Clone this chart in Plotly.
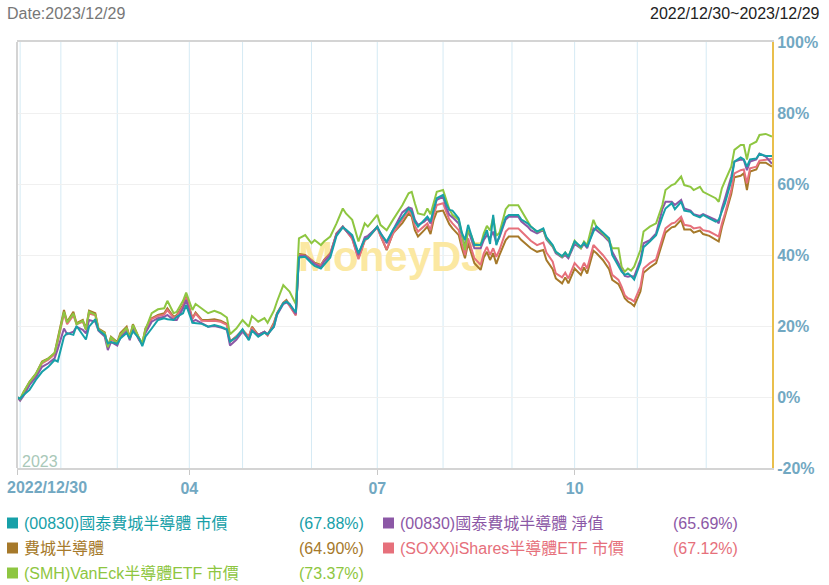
import plotly.graph_objects as go

# ---------------- data (trading-day index, cumulative return %) ----------------
day_idx = [0, 1, 2, 4, 6, 8, 10, 12, 13, 15,
           16, 18, 19, 21, 22, 23, 25, 26, 28, 29,
           30, 32, 33, 35, 36, 37, 39, 40, 41, 43,
           45, 47, 48, 50, 51, 53, 54, 56, 57, 59,
           61, 63, 65, 67, 68, 70, 72, 74, 75, 77,
           79, 80, 82, 83, 85, 86, 87, 89, 90, 92,
           94, 95, 97, 98, 100, 102, 104, 105, 107, 109,
           111, 112, 115, 116, 118, 120, 123, 125, 126, 127,
           128, 130, 131, 132, 133, 134, 136, 137, 138, 139,
           141, 142, 143, 144, 145, 146, 148, 149, 150, 151,
           152, 153, 154, 156, 157, 160, 161, 163, 164, 166,
           168, 169, 171, 172, 174, 175, 176, 178, 180, 181,
           182, 184, 185, 187, 189, 190, 192, 193, 194, 195,
           196, 197, 199, 200, 202, 204, 206, 207, 209, 210,
           212, 213, 215, 216, 218, 219, 221, 223, 224, 225,
           226, 228, 229, 231, 232, 233, 234, 236, 237, 239,
           241]

etf00830_price = [0, -0.5, 0.5, 2.0, 4.8, 7.1, 8.5, 10.4, 10.0, 17.0,
                  18.0, 17.5, 20.0, 17.5, 16.2, 19.8, 21.9, 18.9, 17.5, 15.1,
                  15.5, 15.0, 16.5, 18.0, 16.5, 18.5, 16.5, 14.3, 17.0, 19.3,
                  21.7, 22.2, 21.9, 21.7, 22.6, 23.6, 25.9, 20.9, 20.8, 20.6,
                  19.8, 20.3, 19.8, 19.1, 15.6, 16.8, 19.1, 16.0, 18.7, 17.0,
                  18.1, 17.7, 19.8, 23.4, 26.4, 26.9, 26.2, 23.8, 39.3, 39.5,
                  37.7, 36.9, 36.2, 37.2, 39.3, 45.4, 47.8, 47.2, 45.6, 40.5,
                  44.4, 44.7, 48.0, 46.1, 43.8, 47.0, 50.5, 53.1, 52.2, 49.4,
                  48.0, 49.9, 50.8, 49.4, 53.1, 56.0, 56.9, 54.4, 52.7, 52.5,
                  50.3, 46.3, 44.2, 48.5, 45.6, 42.8, 42.8, 44.7, 47.0, 43.1,
                  51.3, 42.8, 45.6, 50.6, 51.3, 51.3, 50.0, 48.9, 48.0, 46.6,
                  47.5, 45.0, 42.8, 40.9, 39.7, 40.7, 39.5, 43.8, 42.3, 43.5,
                  42.3, 46.6, 48.0, 46.3, 44.7, 40.0, 36.7, 35.3, 34.4, 34.8,
                  34.1, 33.1, 37.8, 42.2, 43.8, 45.6, 50.8, 53.1, 54.6, 52.9,
                  55.0, 52.5, 52.2, 51.3, 50.6, 51.3, 50.3, 49.4, 49.9, 52.2,
                  54.6, 60.9, 66.3, 67.5, 66.9, 64.9, 66.9, 67.2, 68.5, 67.9,
                  67.88]

etf00830_nav = [0, -1.0, 0.2, 3.4, 5.5, 8.5, 9.5, 10.9, 13.5, 19.3,
                17.7, 18.4, 19.8, 18.9, 17.9, 21.7, 21.2, 18.7, 17.0, 13.2,
                15.5, 14.5, 16.8, 18.5, 16.0, 19.5, 16.0, 14.8, 18.0, 21.2,
                22.2, 22.6, 23.1, 21.7, 21.7, 25.0, 27.3, 21.2, 21.7, 20.8,
                19.8, 20.0, 19.6, 18.9, 14.5, 16.1, 18.4, 16.2, 18.7, 17.5,
                18.4, 17.7, 19.8, 23.1, 26.2, 26.6, 26.2, 23.4, 39.7, 39.7,
                38.1, 37.5, 36.5, 38.1, 40.0, 45.9, 48.0, 46.9, 45.2, 40.0,
                45.0, 45.4, 47.8, 46.3, 43.3, 47.0, 52.0, 53.4, 53.1, 49.9,
                48.5, 49.4, 50.3, 48.9, 52.9, 55.5, 56.4, 53.4, 51.3, 50.6,
                48.9, 45.6, 42.3, 47.0, 44.7, 41.9, 41.9, 44.2, 45.6, 44.7,
                46.6, 43.3, 45.0, 50.0, 50.8, 50.8, 49.4, 48.0, 47.0, 46.1,
                47.0, 44.4, 42.3, 40.5, 39.3, 40.0, 39.1, 43.1, 41.9, 43.1,
                41.9, 47.5, 47.0, 45.6, 43.8, 40.9, 37.7, 35.8, 34.1, 33.9,
                34.1, 33.9, 38.6, 43.3, 44.2, 46.1, 52.9, 55.0, 55.0, 54.1,
                55.5, 53.1, 52.5, 51.5, 51.0, 51.5, 50.6, 49.9, 48.9, 53.1,
                56.0, 62.1, 66.3, 66.9, 66.8, 63.9, 66.3, 66.9, 68.6, 67.7,
                65.69]

sox_index = [0, -0.8, 1.2, 4.3, 6.5, 10.0, 10.9, 12.3, 16.5, 24.5,
             21.2, 24.0, 20.8, 21.7, 19.3, 24.3, 23.6, 19.3, 18.2, 14.2,
             17.0, 15.5, 18.0, 19.8, 16.8, 20.5, 16.5, 15.0, 19.3, 22.2,
             23.1, 23.6, 25.0, 22.6, 23.1, 25.9, 28.3, 22.2, 23.8, 21.7,
             21.7, 21.9, 21.5, 20.6, 15.6, 17.0, 18.9, 17.0, 19.8, 17.5,
             18.4, 17.5, 20.9, 23.6, 26.6, 27.3, 25.9, 23.1, 40.3, 40.0,
             38.6, 37.8, 37.2, 38.6, 40.5, 46.1, 48.0, 47.0, 44.7, 39.1,
             44.2, 45.0, 48.0, 45.6, 41.4, 46.1, 49.0, 51.7, 50.8, 47.0,
             45.2, 47.0, 48.0, 45.9, 49.9, 52.2, 52.5, 50.6, 48.7, 47.5,
             45.6, 41.9, 39.1, 43.3, 40.5, 37.7, 35.8, 39.3, 40.9, 38.6,
             40.5, 37.5, 40.0, 44.2, 45.2, 45.2, 44.2, 42.8, 41.9, 40.9,
             41.4, 38.6, 36.0, 33.4, 32.0, 33.7, 32.0, 36.2, 34.4, 36.5,
             34.8, 41.2, 40.5, 38.6, 36.0, 33.0, 31.8, 30.0, 27.8, 26.9,
             26.4, 25.6, 29.7, 35.0, 36.5, 37.7, 43.1, 46.3, 47.8, 48.0,
             49.9, 47.2, 47.2, 46.3, 46.9, 45.9, 45.4, 44.4, 43.8, 47.8,
             50.8, 57.2, 61.9, 62.3, 63.0, 58.3, 63.5, 64.1, 66.0, 66.0,
             64.90]

soxx_price = [0, -0.7, 1.0, 4.0, 6.2, 9.5, 10.5, 12.0, 15.5, 23.5,
              20.5, 23.0, 20.5, 21.2, 19.0, 23.5, 23.0, 19.0, 17.8, 14.0,
              16.5, 15.0, 17.5, 19.3, 16.5, 20.0, 16.2, 15.0, 18.8, 22.0,
              22.8, 23.2, 24.5, 22.3, 22.8, 25.5, 28.0, 22.0, 23.5, 21.5,
              21.4, 21.5, 21.2, 20.3, 15.5, 17.0, 18.7, 17.0, 19.5, 17.2,
              18.2, 17.3, 20.6, 23.5, 26.5, 27.0, 25.6, 23.0, 40.0, 39.8,
              38.5, 37.6, 37.0, 38.4, 40.3, 46.0, 47.8, 47.0, 44.5, 38.8,
              44.0, 44.8, 47.8, 45.4, 41.6, 46.0, 50.0, 52.5, 51.5, 48.2,
              46.6, 48.0, 48.9, 47.0, 51.3, 54.1, 54.6, 52.2, 50.0, 48.9,
              47.0, 43.3, 40.0, 44.7, 41.9, 39.1, 37.2, 40.5, 42.3, 40.0,
              41.9, 39.5, 41.4, 46.6, 47.5, 47.5, 46.6, 44.7, 44.0, 42.8,
              43.5, 40.7, 38.1, 34.8, 33.7, 35.0, 33.4, 37.7, 35.8, 37.8,
              36.2, 42.8, 41.9, 40.0, 37.7, 34.4, 33.0, 31.1, 28.7, 27.8,
              27.5, 26.9, 31.1, 36.2, 37.7, 38.8, 44.7, 47.5, 48.9, 49.1,
              50.8, 48.5, 48.2, 47.5, 47.8, 47.0, 46.6, 45.6, 45.2, 48.9,
              51.7, 58.3, 63.0, 63.9, 64.1, 60.2, 64.4, 64.9, 66.6, 66.8,
              67.12]

smh_price = [0, -0.6, 1.3, 4.2, 6.5, 9.8, 10.8, 12.5, 16.0, 24.0,
             21.0, 23.5, 20.5, 21.5, 19.0, 24.0, 23.2, 19.0, 18.0, 14.0,
             16.8, 15.2, 17.5, 19.5, 16.5, 20.3, 16.5, 15.3, 19.0, 23.6,
             24.7, 25.0, 27.1, 23.6, 24.0, 27.1, 29.4, 24.5, 26.2, 25.0,
             23.6, 24.3, 23.6, 22.4, 17.7, 19.3, 21.7, 19.8, 22.8, 21.2,
             22.2, 20.9, 24.3, 26.9, 31.5, 30.6, 29.7, 26.2, 44.7, 45.6,
             43.3, 44.2, 42.8, 43.8, 45.2, 48.9, 53.1, 51.7, 49.9, 43.8,
             48.9, 48.0, 51.3, 48.5, 47.0, 49.9, 54.0, 57.4, 57.8, 54.6,
             51.7, 51.3, 53.1, 51.5, 55.0, 57.8, 58.3, 55.5, 52.9, 51.3,
             49.9, 46.1, 41.4, 47.0, 45.6, 43.1, 42.8, 46.1, 48.2, 46.9,
             50.6, 45.4, 46.3, 52.9, 54.0, 54.0, 52.5, 49.9, 48.0, 46.6,
             47.2, 44.7, 42.5, 40.9, 39.5, 40.7, 39.5, 44.0, 41.9, 43.8,
             42.8, 49.9, 47.8, 46.1, 44.2, 41.9, 41.9, 36.7, 35.3, 36.2,
             35.6, 36.7, 41.4, 46.6, 48.0, 48.9, 54.1, 58.3, 59.7, 60.0,
             62.1, 59.7, 59.2, 58.3, 59.2, 57.8, 56.9, 56.0, 55.0, 58.8,
             60.9, 64.9, 69.6, 71.0, 71.0, 66.9, 71.0, 71.9, 73.8, 74.1,
             73.37]

series_names = ["(00830)國泰費城半導體 市價", "(00830)國泰費城半導體 淨值", "費城半導體",
                "(SOXX)iShares半導體ETF 市價", "(SMH)VanEck半導體ETF 市價"]
final_returns = [67.88, 65.69, 64.90, 67.12, 73.37]
series_values = [etf00830_price, etf00830_nav, sox_index, soxx_price, smh_price]

x_tick_idx = [0, 55, 115, 178]
x_tick_text = ["2022/12/30", "04", "07", "10"]
month_start_idx = [1, 14, 32, 55, 72, 94, 115, 136, 158, 178, 198, 220]
y_ticks = [-20, 0, 20, 40, 60, 80, 100]
last_idx = 241

for s in series_values:
    assert len(s) == len(day_idx), (len(s), len(day_idx))

# ---------------- style ----------------
colors = ["#17a0a8", "#8c58a6", "#a6792a", "#e6707b", "#8ec641"]
draw_order = [2, 3, 1, 4, 0]
FONT = "Arial, 'Liberation Sans', 'Noto Sans CJK TC', sans-serif"
TICK_COLOR = "#72a8c2"
W, H = 829, 585
L, R, T, B = 17, 772, 42, 468


def px(xp):
    return (xp - L) / (R - L)


def py(yp):
    return (B - yp) / (B - T)


fig = go.Figure()

# watermark (drawn under the lines)
fig.add_trace(go.Scatter(x=[119.5], y=[38.5], mode="text", text=["<b>MoneyDJ</b>"],
                         textfont=dict(size=42, color="#fbe8a2", family=FONT),
                         hoverinfo="skip", showlegend=False))

for k in draw_order:
    fig.add_trace(go.Scatter(x=day_idx, y=series_values[k], mode="lines",
                             name=series_names[k],
                             line=dict(color=colors[k], width=2),
                             showlegend=False))

shapes = []
for m in month_start_idx:
    shapes.append(dict(type="line", xref="x", yref="paper", x0=m, x1=m, y0=0, y1=1,
                       line=dict(color="#d5eaf4", width=1), layer="below"))
# left border
shapes.append(dict(type="line", xref="paper", yref="paper", x0=0, x1=0, y0=0, y1=1,
                   line=dict(color="#d4d4d4", width=2)))

annotations = [
    dict(text="Date:2023/12/29", x=px(5), y=py(14), xref="paper", yref="paper",
         xanchor="left", yanchor="middle", showarrow=False,
         font=dict(size=16, color="#777777", family=FONT)),
    dict(text="2022/12/30~2023/12/29", x=px(822), y=py(14), xref="paper", yref="paper",
         xanchor="right", yanchor="middle", showarrow=False,
         font=dict(size=16, color="#222222", family=FONT)),
    dict(text="2023", x=px(20), y=py(461), xref="paper", yref="paper",
         xanchor="left", yanchor="middle", showarrow=False,
         font=dict(size=16, color="#a9c8b8", family=FONT)),
    # first x tick label sits to the right of its tick
    dict(text="<b>%s</b>" % x_tick_text[0], x=px(5), y=py(487), xref="paper", yref="paper",
         xanchor="left", yanchor="middle", showarrow=False,
         font=dict(size=16, color=TICK_COLOR, family=FONT)),
]

# legend (custom, two columns)
legend_slots = [(0, 0), (1, 0), (0, 1), (1, 1), (0, 2)]
col_sq = [7, 383]
col_name = [22, 398]
col_pct = [297, 671]
row_y = [523, 548, 573]
for k, (c, r) in enumerate(legend_slots):
    yc = row_y[r]
    shapes.append(dict(type="rect", xref="paper", yref="paper",
                       x0=px(col_sq[c]), x1=px(col_sq[c] + 11),
                       y0=py(yc + 5.5), y1=py(yc - 5.5),
                       fillcolor=colors[k], line=dict(width=0)))
    annotations.append(dict(text=series_names[k], x=px(col_name[c]), y=py(yc),
                            xref="paper", yref="paper", xanchor="left", yanchor="middle",
                            showarrow=False, font=dict(size=16, color=colors[k], family=FONT)))
    annotations.append(dict(text="(%.2f%%)" % final_returns[k], x=px(col_pct[c]), y=py(yc),
                            xref="paper", yref="paper", xanchor="left", yanchor="middle",
                            showarrow=False, font=dict(size=16, color=colors[k], family=FONT)))

x_labels = [""] + ["<b>%s</b>" % t for t in x_tick_text[1:]]
y_labels = ["<b>%d%%</b>" % v for v in y_ticks]

fig.update_layout(
    width=W, height=H,
    margin=dict(l=L, r=W - R, t=T, b=H - B, pad=0),
    paper_bgcolor="white", plot_bgcolor="white",
    showlegend=False, hovermode=False,
    font=dict(family=FONT),
    shapes=shapes, annotations=annotations,
    xaxis=dict(range=[0, last_idx], tickmode="array", tickvals=x_tick_idx, ticktext=x_labels,
               showgrid=False, zeroline=False, showline=True, linecolor="#d4d4d4", linewidth=2,
               mirror=True, ticks="outside", ticklen=5, tickcolor="#c8c8c8",
               tickfont=dict(size=16, color=TICK_COLOR, family=FONT)),
    yaxis=dict(range=[-20, 100], side="right", tickmode="array", tickvals=y_ticks,
               ticktext=y_labels, showgrid=True, gridcolor="#f0f0f0", gridwidth=1,
               zeroline=False, showline=True, linecolor="#e9bf4c", linewidth=2, ticks="",
               tickfont=dict(size=16, color=TICK_COLOR, family=FONT)),
)

fig.write_html("out.html", config={"displayModeBar": False, "staticPlot": True},
               post_script="document.body.style.margin='0px';")
